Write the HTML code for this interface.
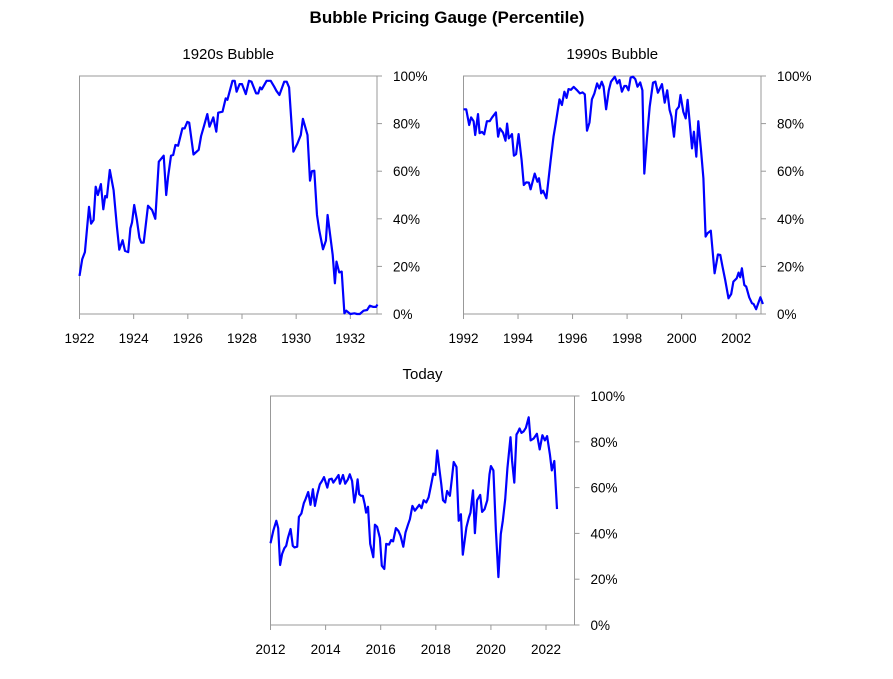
<!DOCTYPE html>
<html><head><meta charset="utf-8"><style>
body{margin:0;background:#fff;}
svg{display:block;font-family:"Liberation Sans",sans-serif;}
</style></head><body>
<svg id="svg" width="893" height="679" viewBox="0 0 893 679">
<text x="447" y="23" text-anchor="middle" font-size="17" font-weight="bold" fill="#000">Bubble Pricing Gauge (Percentile)</text>
</svg>
<script>
const years1=[1922.0,1922.10,1922.20,1922.35,1922.43,1922.52,1922.60,1922.68,1922.79,1922.88,1922.95,1923.01,1923.12,1923.26,1923.38,1923.47,1923.59,1923.68,1923.80,1923.88,1923.94,1924.02,1924.12,1924.21,1924.28,1924.37,1924.53,1924.68,1924.80,1924.93,1925.11,1925.20,1925.27,1925.38,1925.46,1925.54,1925.64,1925.80,1925.88,1925.98,1926.05,1926.21,1926.40,1926.49,1926.59,1926.72,1926.80,1926.94,1927.05,1927.12,1927.28,1927.40,1927.46,1927.65,1927.73,1927.80,1927.91,1928.0,1928.14,1928.26,1928.35,1928.52,1928.60,1928.67,1928.73,1928.91,1929.06,1929.19,1929.27,1929.38,1929.56,1929.65,1929.74,1929.90,1930.05,1930.17,1930.25,1930.42,1930.51,1930.58,1930.67,1930.77,1930.85,1930.99,1931.10,1931.16,1931.35,1931.43,1931.49,1931.59,1931.68,1931.78,1931.85,1932.0,1932.15,1932.25,1932.35,1932.49,1932.62,1932.72,1932.85,1932.95,1933.0];
const vals1=[16,23,26,45,38,39.5,53.5,50,54.6,44,49.6,49,60.5,52,36.7,27,31,26.5,26,36,38.4,45.8,39.5,32,30,30,45.5,43.7,40,64,66.5,50,57.7,66.5,66.8,71,70.7,78,78,80.7,80.4,67,69,74.8,78.7,84,78.7,82.6,76.6,84.6,85,90.6,90,98,98,93.4,96.6,96.6,92.4,98,97.6,92.7,92.7,95.2,94.4,98,98,95.5,93.8,92,97.6,97.6,95.2,68.2,71.7,75.2,82,75.2,56,60,60.2,41.6,35.3,27.2,30.8,41.6,24.8,12.9,22,17.5,17.8,0.3,1.4,0,0.3,0,0,1.4,1.7,3.5,3,3,4];
const years2=[1992.0,1992.10,1992.21,1992.28,1992.37,1992.43,1992.53,1992.59,1992.68,1992.76,1992.86,1992.96,1993.05,1993.19,1993.27,1993.34,1993.45,1993.54,1993.60,1993.66,1993.78,1993.85,1993.93,1994.02,1994.13,1994.21,1994.30,1994.40,1994.46,1994.61,1994.71,1994.77,1994.85,1994.92,1995.04,1995.20,1995.30,1995.38,1995.52,1995.61,1995.70,1995.78,1995.85,1995.94,1996.04,1996.15,1996.27,1996.37,1996.45,1996.53,1996.62,1996.71,1996.80,1996.90,1996.98,1997.07,1997.14,1997.23,1997.33,1997.41,1997.55,1997.64,1997.72,1997.81,1997.90,1997.97,1998.05,1998.13,1998.22,1998.30,1998.38,1998.48,1998.56,1998.63,1998.73,1998.83,1998.95,1999.04,1999.13,1999.28,1999.38,1999.47,1999.56,1999.63,1999.72,1999.81,1999.90,1999.96,2000.06,2000.15,2000.22,2000.30,2000.38,2000.45,2000.54,2000.61,2000.71,2000.80,2000.88,2000.95,2001.07,2001.21,2001.33,2001.42,2001.50,2001.60,2001.72,2001.82,2001.90,2002.02,2002.09,2002.15,2002.21,2002.30,2002.37,2002.48,2002.58,2002.64,2002.73,2002.89,2002.98];
const vals2=[86,86,79.4,82.6,81,75.2,84,76,76.5,75.5,81,81,82.6,84.7,74.5,78,76.2,72.8,80,73.8,75.6,66.5,67.2,75.6,64.7,54.2,55.3,55.2,52.4,59,55.6,57,50.7,51.8,48.6,64.7,74.5,80,90.2,87.8,93.4,90.8,94.5,94.2,95.4,94.2,92.7,93.1,92.3,77,80.5,90.2,92.7,96.9,94.8,97.6,95.5,86,94,97.6,99.7,96.9,98.3,93.4,95.8,95.8,94,99.3,99.7,98.7,95.5,97.3,94,59,74.2,87.1,97.2,97.6,93,96.6,88.8,94,85.7,82.9,74.5,85.7,87.1,92,85,82.2,90,80,69.6,76.6,66.1,81,68.9,57,32.5,33.9,35,17.1,25,24.8,19.9,14.3,6.6,8.4,13.6,15,17.4,15.4,19.2,12.2,11.5,7,4.5,4.2,2,7,4.2];
const years3=[2012.0,2012.10,2012.21,2012.28,2012.35,2012.42,2012.50,2012.57,2012.64,2012.73,2012.81,2012.87,2012.97,2013.03,2013.12,2013.21,2013.27,2013.37,2013.45,2013.54,2013.61,2013.70,2013.79,2013.87,2013.94,2014.06,2014.13,2014.22,2014.28,2014.39,2014.47,2014.52,2014.63,2014.71,2014.81,2014.88,2014.96,2015.04,2015.10,2015.16,2015.22,2015.29,2015.35,2015.42,2015.47,2015.54,2015.62,2015.73,2015.79,2015.87,2015.97,2016.04,2016.13,2016.20,2016.30,2016.38,2016.45,2016.55,2016.64,2016.72,2016.82,2016.90,2016.99,2017.06,2017.15,2017.24,2017.31,2017.40,2017.48,2017.56,2017.65,2017.74,2017.82,2017.91,2017.98,2018.05,2018.13,2018.20,2018.26,2018.34,2018.41,2018.51,2018.58,2018.65,2018.75,2018.83,2018.91,2018.98,2019.11,2019.20,2019.26,2019.35,2019.42,2019.50,2019.61,2019.68,2019.77,2019.87,2019.95,2020.0,2020.09,2020.18,2020.27,2020.36,2020.43,2020.52,2020.60,2020.71,2020.77,2020.85,2020.93,2020.98,2021.04,2021.11,2021.19,2021.27,2021.37,2021.44,2021.55,2021.67,2021.77,2021.87,2021.96,2022.04,2022.14,2022.21,2022.30,2022.40];
const vals3=[35.7,41.2,45.5,42.3,26.2,31,33.5,34.6,38.3,41.9,34.6,33.9,34.2,47.2,48.7,53.2,54.9,58.1,52.5,59.3,52,57.1,61.4,62.9,64.6,60,63.6,63.9,62.2,64,65.5,61.7,65.5,61.7,63.6,65.8,62.9,53.5,57.1,63.6,57.1,56.4,56.4,52.8,49.1,51.6,35.4,29.6,43.8,42.9,38,25.9,24.5,35.4,35.1,37.1,36.5,42.3,41.2,39,34.2,40.4,43.8,46.2,52,49.9,51,52.5,51,54.5,53.5,55.7,60.7,66.1,65.5,76.2,68,61.4,54.5,53.5,58.5,56.4,63.6,71.2,69,45.5,48.4,30.7,42.6,47,49.1,58.8,40.1,54.5,56.8,49.4,50.6,54.5,65.8,69.4,67.5,41.2,20.9,39.7,45.5,54.9,68.4,82,71.6,62.2,83.2,84.2,85.8,83.9,84.6,86.1,90.7,80.6,81.4,83.5,76.7,82.9,80.6,82.5,74.5,67.5,71.6,50.6];
const xTicks1=[1922,1924,1926,1928,1930,1932];
const xTicks2=[1992,1994,1996,1998,2000,2002];
const xTicks3=[2012,2014,2016,2018,2020,2022];
const yTicks=[0,20,40,60,80,100];

const NS="http://www.w3.org/2000/svg";
const svg=document.getElementById('svg');
function mk(tag,attrs,parent){const e=document.createElementNS(NS,tag);for(const k in attrs)e.setAttribute(k,attrs[k]);(parent||svg).appendChild(e);return e;}

function chart(id,title,L,R,T,B,x0,x1,xs,ys,xt){
  const g=mk('g',{});
  
  
  const sx=v=>L+(v-x0)/(x1-x0)*(R-L);
  const sy=v=>B-v/100*(B-T);
  const t=mk('text',{x:(L+R)/2,y:T-17,'text-anchor':'middle','font-size':15,fill:'#000'},g);
  t.textContent=title;
  
  
  const f=mk('rect',{x:L,y:T,width:R-L,height:B-T,fill:'none',stroke:'#999','stroke-width':1},g);
  
  
  yTicks.forEach(v=>{
    mk('line',{x1:R,x2:R+5,y1:sy(v),y2:sy(v),stroke:'#999'},g);
    const tx=mk('text',{x:R+16,y:sy(v)+5,'font-size':13.5,fill:'#000'},g);
    tx.textContent=v+'%';
    
    
  });
  xt.forEach(v=>{
    mk('line',{x1:sx(v),x2:sx(v),y1:B,y2:B+5,stroke:'#999'},g);
    const tx=mk('text',{x:sx(v),y:B+29,'text-anchor':'middle','font-size':13.5,fill:'#000'},g);
    tx.textContent=v;
    
    
  });
  const d=xs.map((v,i)=>(i?'L':'M')+sx(v).toFixed(1)+' '+sy(ys[i]).toFixed(1)).join(' ');
  const p=mk('path',{d:d,fill:'none',stroke:'#0000ff','stroke-width':2.2,'stroke-linejoin':'round'},g);
  
  
}
chart('bubble-1920s','1920s Bubble',79.5,377,76,314,1922,1932+(377-350.3)/27.1,years1,vals1,xTicks1);
chart('bubble-1990s','1990s Bubble',463.5,761,76,314,1992,2002+(761-736.3)/27.1,years2,vals2,xTicks2);
chart('today','Today',270.5,574.5,396,625,2012,2022+(574.5-546)/27.57,years3,vals3,xTicks3);
</script>
</body></html>
